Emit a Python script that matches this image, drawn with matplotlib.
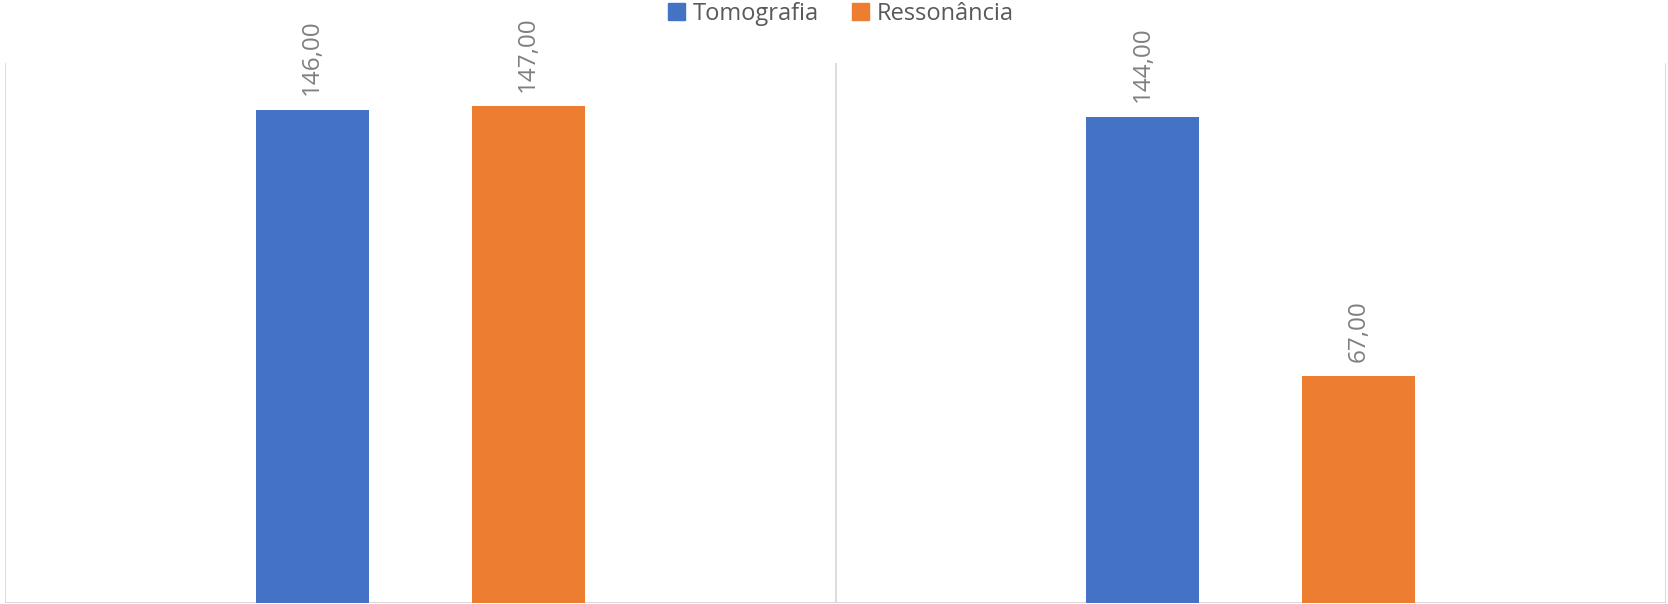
import matplotlib
matplotlib.use("Agg")
import matplotlib.pyplot as plt
from matplotlib.patches import Patch
import numpy as np

categories = ["Grupo 1", "Grupo 2"]
series_names = ["Tomografia", "Ressonância"]
tomografia = [146, 144]
ressonancia = [147, 67]
colors = ["#4472C4", "#ED7D31"]

plt.rcParams['font.family'] = ['Open Sans', 'DejaVu Sans']

fig = plt.figure(figsize=(16.68, 6.04), dpi=100)
ax = fig.add_axes([5/1668, 1.5/604, 1661/1668, 540/604])

x = np.arange(len(categories))
w = 0.136
off = 0.13
for vals, c, sgn in [(tomografia, colors[0], -1), (ressonancia, colors[1], 1)]:
    bars = ax.bar(x + sgn*off, vals, width=w, color=c, zorder=3)
    for b, v in zip(bars, vals):
        ax.annotate(f"{v:.2f}".replace(".", ","), (b.get_x() + b.get_width()/2, v),
                    xytext=(0, 10.5), textcoords="offset points", rotation=90,
                    ha="center", va="bottom", fontsize=17.5, color="#7F7F7F")

ax.set_xlim(-0.5, len(categories) - 0.5)
ax.set_ylim(0, 160)
for xv in np.arange(-0.5, len(categories), 1.0):
    ax.axvline(xv, color="#D9D9D9", lw=1.3, zorder=1)
for s in ax.spines.values():
    s.set_visible(False)
ax.axhline(0, color="#D9D9D9", lw=1.5, zorder=2)
ax.set_xticks([])
ax.set_yticks([])

handles = [Patch(color=c) for c in colors]
fig.legend(handles, series_names, loc="center", bbox_to_anchor=(841/1668, 1 - 14/604),
           ncol=2, frameon=False, fontsize=17, labelcolor="#595959",
           handlelength=0.7, handleheight=0.7, handletextpad=0.35, columnspacing=1.4,
           borderpad=0)

fig.savefig("out.png", dpi=100)
